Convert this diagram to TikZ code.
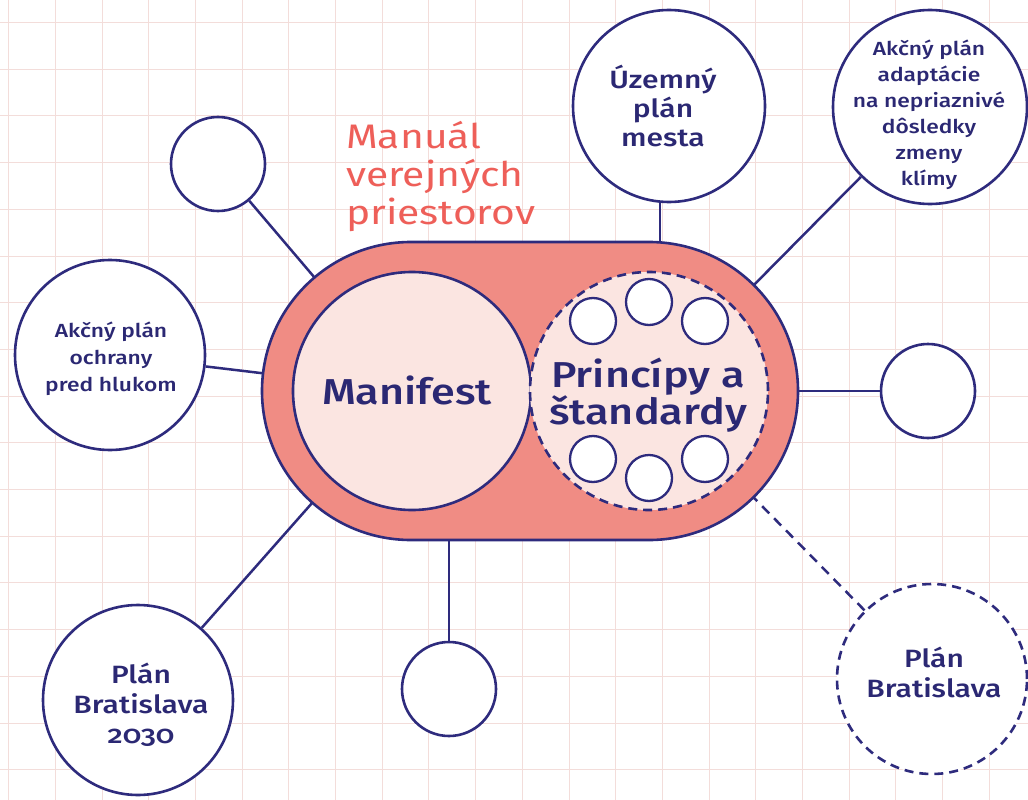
\documentclass[tikz,border=0pt]{standalone}
\usepackage{fontspec}
\setmainfont{Fira Sans}[UprightFont=* Medium, FakeStretch=1.2]
\newfontfamily\titlefont{Fira Sans}[FakeStretch=1.2]
\usetikzlibrary{shapes.misc}
\pgfdeclarelayer{background}
\pgfsetlayers{background,main}
\definecolor{navy}{HTML}{2E2B7D}
\definecolor{txtnavy}{HTML}{2B2873}
\definecolor{salmon}{HTML}{F08C84}
\definecolor{lightpink}{HTML}{FBE5E1}
\definecolor{gridc}{HTML}{F3DDDA}
\definecolor{redtxt}{HTML}{EE5F59}
\begin{document}
\begin{tikzpicture}[x=1pt,y=-1pt,
  gridline/.style={draw=gridc,line width=1pt},
  link/.style={draw=navy,line width=2.5pt},
  dlink/.style={link,dash pattern=on 10pt off 7pt},
  ring/.style={circle,draw=navy,line width=2.6pt,fill=white,inner sep=0pt},
  smallring/.style={ring,minimum size=94pt},
  largering/.style={ring,minimum size=190pt},
  dotring/.style={ring,minimum size=46pt,line width=2.3pt},
  lbl/.style={text=txtnavy,align=center,inner sep=0pt},
  pillshape/.style={rounded rectangle,draw=navy,line width=2.6pt,fill=salmon,
    minimum width=536pt,minimum height=298pt,inner sep=0pt},
  title/.style={text=redtxt,align=left,inner sep=0pt,anchor=north west,
    font=\titlefont\fontsize{34}{38}\selectfont}
]
\useasboundingbox (0,0) rectangle (1028,800);
% outer circles
\node[smallring] (c1) at (218,164) {};
\node[largering] (c2) at (110,355) {};
\node[largering] (c3) at (138,700) {};
\node[smallring] (c4) at (449,689) {};
\node[largering,dash pattern=on 9pt off 6pt] (c5) at (932,679) {};
\node[smallring] (c6) at (928,391) {};
\node[ring,minimum size=194pt] (c7) at (930,107) {};
\node[ring,minimum size=192pt] (c8) at (669,106) {};
% pill and inner circles
\node[pillshape] (pill) at (530,391) {};
\coordinate (pl) at (411,391);
\coordinate (pr) at (649,391);
\coordinate (uzfoot) at (660,391);
\node[ring,fill=lightpink,minimum size=238pt] (man) at (412,391) {};
\node[ring,fill=lightpink,minimum size=238pt,dash pattern=on 9pt off 6pt] (pri) at (649,391) {};
\node[dotring] (s1) at (593,321) {};
\node[dotring] (s2) at (649,302) {};
\node[dotring] (s3) at (705,321) {};
\node[dotring] (s4) at (593,459) {};
\node[dotring] (s5) at (649,478) {};
\node[dotring] (s6) at (705,459) {};
% texts
\node[lbl,font=\fontsize{36}{36}\selectfont] (mant) at (407,390) {Manifest};
\node[lbl,font=\fontsize{36}{35}\selectfont] (prit) at (648,395) {Princípy a\\štandardy};
\node[lbl,font=\fontsize{25}{29}\selectfont] (t8) at (663,106) {Územný\\plán\\mesta};
\node[lbl,font=\fontsize{19}{26}\selectfont] (t7) at (929,115) {Akčný plán\\adaptácie\\na nepriaznivé\\dôsledky\\zmeny\\klímy};
\node[lbl,font=\fontsize{19}{27}\selectfont] (t2) at (111,359) {Akčný plán\\ochrany\\pred hlukom};
\node[lbl,font=\fontsize{25}{30}\selectfont] (t3) at (141,705) {Plán\\Bratislava\\{\addfontfeature{Numbers=OldStyle}2030}};
\node[lbl,font=\fontsize{25}{30}\selectfont] (t5) at (934,672) {Plán\\Bratislava};
\node[title] (ttl) at (346,121) {Manuál\\verejných\\priestorov};
% background: grid and connectors
\begin{pgfonlayer}{background}
\fill[white] (0,0) rectangle (1028,800);
\foreach \i in {0,...,21} \draw[gridline] ({8.6+46.7*\i},0) -- ({8.6+46.7*\i},800);
\foreach \j in {0,...,16} \draw[gridline] (0,{22.5+46.7*\j}) -- (1028,{22.5+46.7*\j});
\draw[link] (c1) -- (pl);
\draw[link] (c2) -- (pl);
\draw[link] (c3) -- (pl);
\draw[link] (c4) -- (c4 |- pl);
\draw[dlink] (c5) -- (pr);
\draw[link] (c6) -- (pr);
\draw[link] (c7) -- (pr);
\draw[link] (uzfoot |- c8.south) -- (uzfoot);
\end{pgfonlayer}
\end{tikzpicture}
\end{document}
